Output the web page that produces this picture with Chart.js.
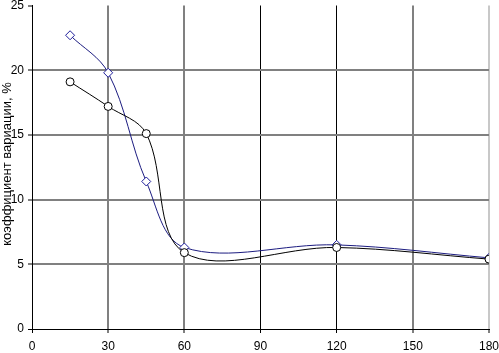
<!DOCTYPE html>
<html>
<head>
<meta charset="utf-8">
<script src="https://cdn.jsdelivr.net/npm/chart.js@4"></script>
<style>
  html, body { margin: 0; padding: 0; background: #fff; }
  #wrap { width: 499px; height: 353px; }
</style>
</head>
<body>
<div id="wrap"><canvas id="c"></canvas></div>
<script>
// данные
const xValues = [15, 30, 45, 60, 120, 180];
const circleSeries = [19.1, 17.2, 15.1, 5.9, 6.3, 5.4];
const diamondSeries = [22.7, 19.8, 11.4, 6.3, 6.5, 5.5];
const xTicks = [0, 30, 60, 90, 120, 150, 180];
const yTicks = [0, 5, 10, 15, 20, 25];
const yTitle = 'коэффициент вариации, %';

const FONT = 'Liberation Sans, Arial, sans-serif';

// цвета вертикальных линий сетки как на оригинале
function xGridColor(ctx) {
  const v = ctx.tick && ctx.tick.value;
  if (v === 0 || v === 90 || v === 120) return '#000';
  if (v === 180) return '#c8c8c8';
  return '#808080';
}
function xGridWidth(ctx) {
  const v = ctx.tick && ctx.tick.value;
  return (v === 0 || v === 90 || v === 120) ? 1 : 2;
}
function yGridColor(ctx) {
  const v = ctx.tick && ctx.tick.value;
  if (v === 0) return '#000';
  if (v === 25) return 'rgba(0,0,0,0)';
  return '#808080';
}

// подпись оси Y поверх меток, как в исходнике
const yTitlePlugin = {
  id: 'yTitle',
  afterDraw(chart) {
    const c = chart.ctx;
    c.save();
    c.translate(7, 164);
    c.rotate(-Math.PI / 2);
    c.font = '13px ' + FONT;
    c.fillStyle = '#000';
    c.textAlign = 'center';
    c.textBaseline = 'middle';
    c.fillText(yTitle, 0, 0);
    c.restore();
  }
};

new Chart(document.getElementById('c'), {
  type: 'line',
  data: {
    datasets: [
      {
        data: xValues.map((x, i) => ({ x, y: circleSeries[i] })),
        borderColor: '#000',
        borderWidth: 1,
        pointStyle: 'circle',
        pointRadius: 4,
        pointBackgroundColor: '#fff',
        pointBorderColor: '#000',
        pointBorderWidth: 1,
        tension: 0.35
      },
      {
        data: xValues.map((x, i) => ({ x, y: diamondSeries[i] })),
        borderColor: '#1c1c80',
        borderWidth: 1,
        pointStyle: 'rectRot',
        pointRadius: 4.5,
        pointBackgroundColor: '#fff',
        pointBorderColor: '#1c1c9a',
        pointBorderWidth: 1,
        tension: 0.35
      }
    ]
  },
  options: {
    responsive: true,
    maintainAspectRatio: false,
    animation: false,
    layout: { padding: { top: 4, right: 10, left: 0, bottom: 0 } },
    plugins: {
      legend: { display: false },
      tooltip: { enabled: false }
    },
    scales: {
      x: {
        type: 'linear',
        min: 0,
        max: 180,
        afterBuildTicks: s => { s.ticks = xTicks.map(v => ({ value: v })); },
        afterFit: s => { s.height = 24; s.paddingLeft = 0; s.paddingRight = 0; },
        border: { color: '#000', width: 1 },
        grid: {
          color: xGridColor,
          lineWidth: xGridWidth,
          drawTicks: true,
          tickLength: 4,
          tickColor: '#000',
          tickWidth: 1
        },
        ticks: {
          color: '#000',
          font: { family: FONT, size: 12 },
          padding: 6,
          maxRotation: 0
        }
      },
      y: {
        min: 0,
        max: 25,
        afterBuildTicks: s => { s.ticks = yTicks.map(v => ({ value: v })); },
        afterFit: s => { s.width = 32; s.paddingTop = 0; s.paddingBottom = 0; },
        border: { color: '#000', width: 1 },
        grid: {
          color: yGridColor,
          lineWidth: ctx => (ctx.tick && ctx.tick.value === 0) ? 1 : 2,
          drawTicks: true,
          tickLength: 4,
          tickColor: '#000',
          tickWidth: 1
        },
        ticks: {
          color: '#000',
          font: { family: FONT, size: 12 },
          padding: 4
        }
      }
    }
  },
  plugins: [yTitlePlugin]
});
</script>
</body>
</html>
